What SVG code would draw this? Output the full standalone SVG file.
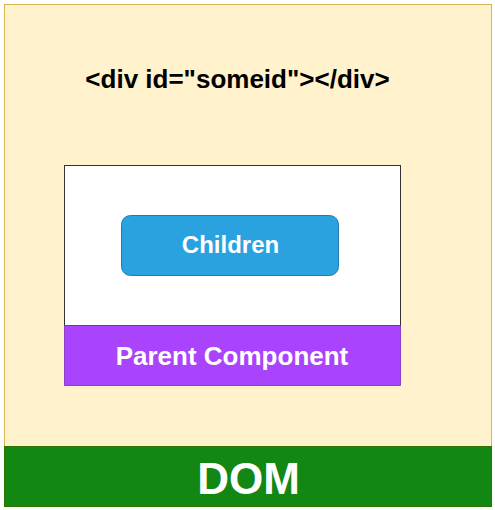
<svg xmlns="http://www.w3.org/2000/svg" width="495" height="510" viewBox="0 0 495 510">
<style>
text{font-family:"Liberation Sans",Arial,sans-serif;font-weight:bold;text-anchor:middle}
.w{fill:#ffffff}
</style>
<rect width="495" height="510" fill="#ffffff"/>
<g id="outer">
<rect x="4.5" y="4.5" width="487" height="442" fill="#fff2cc" stroke="#d6b656"/>
<text x="237.5" y="88" font-size="26" fill="#000000">&lt;div id="someid"&gt;&lt;/div&gt;</text>
</g>
<g id="dom">
<rect x="4.5" y="446.5" width="487" height="60" fill="#128714" stroke="#2d7600"/>
<text class="w" x="248.5" y="494" font-size="44">DOM</text>
</g>
<g id="parent">
<rect x="64.5" y="165.5" width="336" height="160" fill="#ffffff" stroke="#333333"/>
<rect x="64.5" y="325.5" width="336" height="60" fill="#aa44fc" stroke="#7a2bbf" stroke-width="0.8"/>
<text class="w" x="232" y="364.5" font-size="26">Parent Component</text>
</g>
<g id="children">
<rect x="121.5" y="215.5" width="217" height="60" rx="9" fill="#29a2df" stroke="#1f7ab0"/>
<text class="w" x="230.5" y="253" font-size="24">Children</text>
</g>
<g id="connectors"/>
</svg>
